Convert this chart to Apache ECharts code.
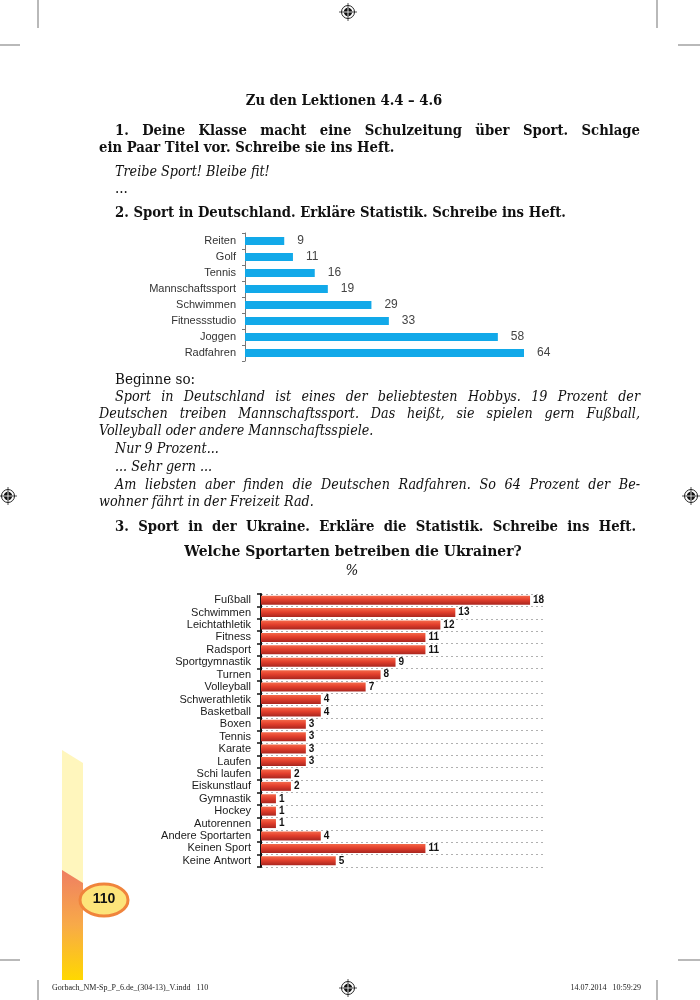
<!DOCTYPE html>
<html>
<head>
<meta charset="utf-8">
<script src="https://cdn.jsdelivr.net/npm/echarts@6/dist/echarts.min.js"></script>
<style>
html,body{margin:0;padding:0;background:#fff;}
#c{width:700px;height:1000px;}
</style>
</head>
<body>
<div id="c"></div>
<script>
// ---- Data: Sport in Deutschland ----
const deCategories = ['Reiten','Golf','Tennis','Mannschaftssport','Schwimmen','Fitnessstudio','Joggen','Radfahren'];
const deValues = [9, 11, 16, 19, 29, 33, 58, 64];

// ---- Data: Sport in der Ukraine ----
const uaCategories = ['Fußball','Schwimmen','Leichtathletik','Fitness','Radsport','Sportgymnastik','Turnen','Volleyball','Schwerathletik','Basketball','Boxen','Tennis','Karate','Laufen','Schi laufen','Eiskunstlauf','Gymnastik','Hockey','Autorennen','Andere Sportarten','Keinen Sport','Keine Antwort'];
const uaValues = [18, 13, 12, 11, 11, 9, 8, 7, 4, 4, 3, 3, 3, 3, 2, 2, 1, 1, 1, 4, 11, 5];

// ---- Page text ----
const pageLines = [
  {t:'Zu den Lektionen 4.4 – 4.6', x:344, y:101, s:'bold', a:'center'},
  {t:'1. Deine Klasse macht eine Schulzeitung über Sport. Schlage', x:115, y:131, s:'bold', w:525},
  {t:'ein Paar Titel vor. Schreibe sie ins Heft.', x:99, y:148, s:'bold'},
  {t:'Treibe Sport! Bleibe fit!', x:115, y:172, s:'italic'},
  {t:'...', x:115, y:189, s:'normal'},
  {t:'2. Sport in Deutschland. Erkläre Statistik. Schreibe ins Heft.', x:115, y:213, s:'bold'},
  {t:'Beginne so:', x:115, y:380, s:'normal'},
  {t:'Sport in Deutschland ist eines der beliebtesten Hobbys. 19 Prozent der', x:115, y:397, s:'italic', w:525},
  {t:'Deutschen treiben Mannschaftssport. Das heißt, sie spielen gern Fußball,', x:99, y:414, s:'italic', w:541},
  {t:'Volleyball oder andere Mannschaftsspiele.', x:99, y:431, s:'italic'},
  {t:'Nur 9 Prozent...', x:115, y:449, s:'italic'},
  {t:'... Sehr gern ...', x:115, y:467, s:'italic'},
  {t:'Am liebsten aber finden die Deutschen Radfahren. So 64 Prozent der Be-', x:115, y:485, s:'italic', w:525},
  {t:'wohner fährt in der Freizeit Rad.', x:99, y:502, s:'italic'},
  {t:'3. Sport in der Ukraine. Erkläre die Statistik. Schreibe ins Heft.', x:115, y:527, s:'bold', w:521},
  {t:'Welche Sportarten betreiben die Ukrainer?', x:353, y:552, s:'bold', a:'center', size:15.5},
  {t:'%', x:352, y:571, s:'italic', a:'center', size:15}
];

const SERIF = '"DejaVu Serif Condensed", "DejaVu Serif", "Liberation Serif", serif';
const SANS = '"Liberation Sans", Arial, sans-serif';

function fontOf(s, size){
  if (s === 'bold') return 'bold ' + (size || 14.7) + 'px ' + SERIF;
  if (s === 'italic') return 'italic ' + (size || 14.2) + 'px ' + SERIF;
  return (size || 15) + 'px ' + SERIF;
}

const measureCtx = document.createElement('canvas').getContext('2d');
const graphics = [];
function addText(str, x, y, font, align){
  graphics.push({
    type:'text', x:x, y:y, z:10,
    style:{text:str, font:font, fill:'#111', textAlign:align || 'left', textVerticalAlign:'middle', verticalAlign:'middle'}
  });
}
pageLines.forEach(function(l){
  const font = fontOf(l.s, l.size);
  if (l.w) {
    // justified line: distribute the spare width over the word gaps
    measureCtx.font = font;
    const words = l.t.split(' ');
    const widths = words.map(function(w){ return measureCtx.measureText(w).width; });
    const total = widths.reduce(function(a,b){return a+b;}, 0);
    const gap = (l.w - total) / (words.length - 1);
    let cx = l.x;
    words.forEach(function(w, i){
      addText(w, cx, l.y, font, 'left');
      cx += widths[i] + gap;
    });
  } else {
    addText(l.t, l.x, l.y, font, l.a);
  }
});

// crop marks
const markColor = '#8a8a8a';
[[38,0,38,28],[657,0,657,28],[0,45,20,45],[678,45,700,45],
 [0,960,20,960],[678,960,700,960],[38,980,38,1000],[657,980,657,1000]].forEach(function(p){
  graphics.push({type:'line', shape:{x1:p[0],y1:p[1],x2:p[2],y2:p[3]}, style:{stroke:markColor, lineWidth:1.2}});
});
// registration marks
[[348,12],[348,988],[8,496],[691,496]].forEach(function(p){
  graphics.push({type:'circle', shape:{cx:p[0],cy:p[1],r:6.5}, style:{fill:'#fff',stroke:'#222',lineWidth:1}});
  graphics.push({type:'circle', shape:{cx:p[0],cy:p[1],r:4.2}, style:{fill:'#111'}});
  graphics.push({type:'line', shape:{x1:p[0]-9,y1:p[1],x2:p[0]+9,y2:p[1]}, style:{stroke:'#222',lineWidth:0.8}});
  graphics.push({type:'line', shape:{x1:p[0],y1:p[1]-9,x2:p[0],y2:p[1]+9}, style:{stroke:'#222',lineWidth:0.8}});
  graphics.push({type:'line', shape:{x1:p[0]-4,y1:p[1],x2:p[0]+4,y2:p[1]}, style:{stroke:'#fff',lineWidth:0.8}});
  graphics.push({type:'line', shape:{x1:p[0],y1:p[1]-4,x2:p[0],y2:p[1]+4}, style:{stroke:'#fff',lineWidth:0.8}});
});
// left stripe
graphics.push({type:'polygon', shape:{points:[[62,750],[83,763],[83,980],[62,980]]}, style:{fill:'#fff6bd'}});
graphics.push({type:'polygon', shape:{points:[[62,870],[83,883],[83,980],[62,980]]},
  style:{fill:new echarts.graphic.LinearGradient(0,0,0,1,[{offset:0,color:'#ef7f62'},{offset:0.5,color:'#f8aa48'},{offset:1,color:'#ffd800'}])}});
graphics.push({type:'ellipse', shape:{cx:104,cy:900,rx:24,ry:16}, style:{fill:'#fde47a',stroke:'#f0843c',lineWidth:3}, z:20});
graphics.push({type:'text', x:104, y:899, z:21, style:{text:'110', font:'bold 14px ' + SANS, fill:'#111', textAlign:'center', textVerticalAlign:'middle', verticalAlign:'middle'}});
// footer
graphics.push({type:'text', x:52, y:988, style:{text:'Gorbach_NM-Sp_P_6.de_(304-13)_V.indd   110', font:'8px "Liberation Serif", serif', fill:'#222', textVerticalAlign:'middle', verticalAlign:'middle'}});
graphics.push({type:'text', x:641, y:988, style:{text:'14.07.2014   10:59:29', font:'8px "Liberation Serif", serif', fill:'#222', textAlign:'right', textVerticalAlign:'middle', verticalAlign:'middle'}});

const chart = echarts.init(document.getElementById('c'), null, {renderer:'canvas'});
chart.setOption({
  backgroundColor:'#fff',
  animation:false,
  graphic: graphics,
  grid:[
    {left:245, top:233, width:279, height:128},
    {left:261, top:594, width:284, height:273}
  ],
  xAxis:[
    {gridIndex:0, type:'value', min:0, max:64, show:false},
    {gridIndex:1, type:'value', min:0, max:19, show:false}
  ],
  yAxis:[
    {gridIndex:0, type:'category', data:deCategories, inverse:true,
     axisLine:{show:true, lineStyle:{color:'#777', width:1}},
     axisTick:{show:true, length:3, interval:0, lineStyle:{color:'#777'}},
     axisLabel:{margin:9, interval:0, color:'#333', fontSize:11, fontFamily:SANS},
     splitLine:{show:false}},
    {gridIndex:1, type:'category', data:uaCategories, inverse:true,
     axisLine:{show:true, lineStyle:{color:'#111', width:2}},
     axisTick:{show:true, length:4, interval:0, lineStyle:{color:'#111', width:1.5}},
     axisLabel:{margin:10, interval:0, color:'#1a1a1a', fontSize:11, fontFamily:SANS},
     splitLine:{show:true, interval:0, lineStyle:{color:'#b0b0b0', type:[2,3], width:1}}}
  ],
  series:[
    {type:'bar', xAxisIndex:0, yAxisIndex:0, data:deValues, barWidth:8,
     itemStyle:{color:'#12a9e9'},
     label:{show:true, position:'right', distance:13, color:'#444', fontSize:12, fontFamily:SANS}},
    {type:'bar', xAxisIndex:1, yAxisIndex:1, data:uaValues, barWidth:9,
     itemStyle:{color:new echarts.graphic.LinearGradient(0,0,0,1,[
        {offset:0,color:'#f4694a'},{offset:0.45,color:'#e33f2c'},{offset:1,color:'#a9261f'}])},
     label:{show:true, position:'right', distance:3, color:'#111', fontSize:10, fontWeight:'bold', fontFamily:SANS}}
  ]
});
</script>
</body>
</html>
